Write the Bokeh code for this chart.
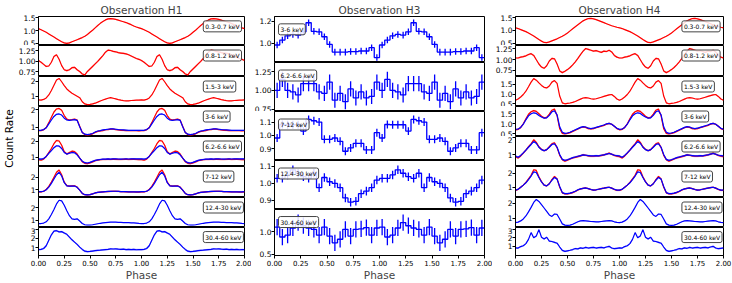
import math
from bokeh.plotting import figure
from bokeh.layouts import row, column
from bokeh.models import Range1d, FixedTicker, PrintfTickFormatter, Label
from bokeh.embed import file_html
from bokeh.resources import INLINE

FONT = "DejaVu Sans"
RED = "#ff0000"
BLUE = "#0000ff"

# ---------------- data (one pulse cycle, phase step 0.025; plotted twice) ----------------
PHASE_STEP = 0.025
x_ticks = [0.0, 0.25, 0.5, 0.75, 1.0, 1.25, 1.5, 1.75, 2.0]
titles = ["Observation H1", "Observation H3", "Observation H4"]
bands = ["0.3-0.7 keV", "0.8-1.2 keV", "1.5-3 keV", "3-6 keV", "6.2-6.6 keV",
         "7-12 keV", "12.4-30 keV", "30.4-60 keV"]
bands_h3 = ["3-6 keV", "6.2-6.6 keV", "7-12 keV", "12.4-30 keV", "30.4-60 keV"]

# Observation H1
h1_03_07 = [1.08, 1.04, 0.99, 0.94, 0.88, 0.82, 0.76, 0.70, 0.64, 0.58, 0.54, 0.52, 0.54, 0.58, 0.62, 0.66, 0.70, 0.74, 0.79, 0.86,
            0.94, 1.02, 1.11, 1.20, 1.28, 1.35, 1.41, 1.45, 1.46, 1.45, 1.43, 1.40, 1.37, 1.34, 1.31, 1.27, 1.23, 1.18, 1.14, 1.11]
h1_08_12 = [1.02, 0.98, 0.93, 0.88, 0.89, 0.98, 1.12, 1.16, 1.05, 0.90, 0.80, 0.78, 0.80, 0.85, 0.86, 0.80, 0.76, 0.70, 0.68, 0.76,
            0.82, 0.88, 0.94, 1.00, 1.07, 1.14, 1.22, 1.27, 1.26, 1.24, 1.23, 1.21, 1.20, 1.19, 1.18, 1.16, 1.13, 1.10, 1.07, 1.05]
h1_15_3 = [0.77, 0.76, 0.80, 0.90, 1.10, 1.40, 1.75, 2.10, 2.20, 1.98, 1.72, 1.50, 1.35, 1.22, 1.12, 1.02, 0.92, 0.65, 0.50, 0.46,
           0.47, 0.50, 0.55, 0.62, 0.70, 0.76, 0.82, 0.88, 0.92, 0.88, 0.84, 0.79, 0.75, 0.72, 0.70, 0.71, 0.73, 0.74, 0.75, 0.76]
h1_3_6_r = [0.80, 0.80, 0.85, 0.98, 1.25, 1.55, 1.85, 2.02, 2.05, 1.95, 1.65, 1.45, 1.40, 1.42, 1.45, 1.40, 1.05, 0.70, 0.58, 0.56,
            0.58, 0.62, 0.70, 0.75, 0.78, 0.80, 0.85, 0.86, 0.88, 0.88, 0.86, 0.84, 0.82, 0.81, 0.80, 0.80, 0.80, 0.80, 0.80, 0.79]
h1_3_6_b = [0.82, 0.82, 0.86, 0.96, 1.18, 1.40, 1.60, 1.72, 1.74, 1.68, 1.50, 1.40, 1.38, 1.40, 1.42, 1.38, 1.02, 0.70, 0.60, 0.58,
            0.60, 0.64, 0.72, 0.78, 0.80, 0.84, 0.86, 0.88, 0.90, 0.90, 0.88, 0.86, 0.85, 0.84, 0.83, 0.82, 0.82, 0.82, 0.82, 0.82]
h1_62_66_r = [0.85, 0.82, 0.88, 1.05, 1.30, 1.55, 1.85, 2.05, 2.02, 1.75, 1.35, 1.20, 1.30, 1.38, 1.35, 1.20, 0.95, 0.72, 0.62, 0.60,
              0.65, 0.70, 0.78, 0.82, 0.85, 0.86, 0.86, 0.87, 0.86, 0.88, 0.87, 0.86, 0.86, 0.87, 0.88, 0.86, 0.87, 0.88, 0.86, 0.85]
h1_62_66_b = [0.90, 0.88, 0.92, 1.05, 1.25, 1.42, 1.60, 1.72, 1.70, 1.55, 1.30, 1.20, 1.25, 1.30, 1.28, 1.15, 0.95, 0.75, 0.66, 0.64,
              0.68, 0.74, 0.80, 0.84, 0.86, 0.88, 0.88, 0.90, 0.88, 0.90, 0.90, 0.89, 0.88, 0.89, 0.90, 0.89, 0.90, 0.90, 0.90, 0.90]
h1_7_12_r = [0.80, 0.80, 0.86, 1.00, 1.25, 1.60, 2.00, 2.40, 2.58, 2.20, 1.60, 1.32, 1.28, 1.30, 1.30, 1.20, 0.95, 0.68, 0.58, 0.56,
             0.58, 0.64, 0.72, 0.76, 0.78, 0.80, 0.82, 0.83, 0.84, 0.85, 0.85, 0.84, 0.82, 0.82, 0.81, 0.80, 0.80, 0.80, 0.79, 0.79]
h1_7_12_b = [0.82, 0.82, 0.86, 0.98, 1.20, 1.50, 1.85, 2.20, 2.40, 2.10, 1.55, 1.30, 1.28, 1.28, 1.28, 1.18, 0.95, 0.68, 0.58, 0.56,
             0.58, 0.64, 0.72, 0.77, 0.79, 0.81, 0.83, 0.84, 0.85, 0.86, 0.86, 0.85, 0.83, 0.82, 0.82, 0.81, 0.81, 0.81, 0.81, 0.81]
h1_124_30 = [0.72, 0.72, 0.76, 0.86, 1.10, 1.45, 1.85, 2.30, 2.60, 2.55, 2.20, 1.75, 1.35, 1.10, 1.05, 1.10, 0.92, 0.72, 0.62, 0.60,
             0.60, 0.62, 0.66, 0.70, 0.74, 0.77, 0.80, 0.82, 0.84, 0.84, 0.83, 0.82, 0.81, 0.80, 0.79, 0.79, 0.78, 0.77, 0.75, 0.73]
h1_304_60 = [0.78, 0.80, 0.90, 1.20, 1.80, 2.40, 2.80, 2.85, 2.72, 2.75, 2.60, 2.45, 2.15, 1.85, 1.60, 1.35, 1.05, 0.80, 0.60, 0.55,
             0.58, 0.62, 0.66, 0.70, 0.72, 0.75, 0.78, 0.80, 0.85, 0.84, 0.86, 0.82, 0.80, 0.82, 0.78, 0.80, 0.78, 0.80, 0.76, 0.78]

# Observation H4
h4_03_07 = [1.10, 1.07, 1.03, 0.99, 0.95, 0.90, 0.84, 0.78, 0.71, 0.64, 0.58, 0.53, 0.52, 0.55, 0.59, 0.63, 0.67, 0.72, 0.77, 0.83,
            0.90, 0.98, 1.06, 1.14, 1.22, 1.30, 1.37, 1.42, 1.46, 1.47, 1.45, 1.42, 1.38, 1.34, 1.30, 1.26, 1.22, 1.18, 1.15, 1.12]
h4_08_12 = [1.04, 1.04, 1.06, 1.07, 1.09, 1.12, 1.14, 1.10, 1.00, 0.90, 0.83, 0.80, 0.86, 0.97, 1.03, 1.02, 0.90, 0.74, 0.70, 0.73,
            0.77, 0.82, 0.88, 0.95, 1.03, 1.12, 1.20, 1.26, 1.24, 1.22, 1.20, 1.21, 1.19, 1.17, 1.20, 1.19, 1.22, 1.18, 1.10, 1.06]
h4_15_3 = [0.68, 0.75, 0.85, 0.98, 1.15, 1.38, 1.62, 1.80, 1.72, 1.58, 1.45, 1.35, 1.32, 1.42, 1.62, 1.70, 1.55, 0.90, 0.55, 0.50,
           0.52, 0.54, 0.57, 0.62, 0.68, 0.74, 0.80, 0.82, 0.80, 0.76, 0.74, 0.76, 0.80, 0.84, 0.88, 0.92, 0.96, 0.98, 0.88, 0.75]
h4_3_6_r = [0.70, 0.72, 0.82, 1.00, 1.25, 1.48, 1.60, 1.66, 1.62, 1.50, 1.38, 1.30, 1.32, 1.48, 1.68, 1.74, 1.40, 0.75, 0.52, 0.50,
            0.52, 0.56, 0.62, 0.68, 0.74, 0.80, 0.84, 0.82, 0.76, 0.74, 0.76, 0.80, 0.84, 0.88, 0.92, 0.98, 1.02, 0.98, 0.88, 0.76]
h4_3_6_b = [0.72, 0.74, 0.82, 0.98, 1.20, 1.40, 1.50, 1.55, 1.52, 1.42, 1.34, 1.28, 1.30, 1.42, 1.60, 1.65, 1.45, 0.85, 0.58, 0.52,
            0.54, 0.58, 0.64, 0.70, 0.76, 0.82, 0.86, 0.84, 0.78, 0.76, 0.78, 0.82, 0.86, 0.90, 0.94, 1.00, 1.02, 0.98, 0.88, 0.78]
h4_62_66_r = [0.88, 0.80, 0.92, 1.08, 1.25, 1.45, 1.62, 1.85, 1.70, 1.45, 1.30, 1.22, 1.28, 1.45, 1.62, 1.68, 1.40, 0.95, 0.70, 0.62,
              0.68, 0.74, 0.80, 0.84, 0.88, 0.92, 0.98, 0.96, 0.92, 0.90, 0.90, 0.92, 0.92, 0.94, 0.98, 1.02, 1.08, 1.02, 0.95, 0.90]
h4_62_66_b = [0.92, 0.84, 0.95, 1.10, 1.25, 1.42, 1.58, 1.75, 1.65, 1.42, 1.28, 1.22, 1.28, 1.42, 1.58, 1.62, 1.42, 1.00, 0.72, 0.66,
              0.70, 0.76, 0.82, 0.86, 0.90, 0.94, 0.98, 0.96, 0.94, 0.92, 0.92, 0.94, 0.92, 0.96, 0.98, 1.02, 1.06, 1.02, 0.96, 0.94]
h4_7_12_r = [0.78, 0.85, 1.00, 1.15, 1.35, 1.60, 1.85, 2.25, 2.20, 1.75, 1.40, 1.15, 1.10, 1.25, 1.55, 1.78, 1.60, 1.00, 0.60, 0.52,
             0.52, 0.56, 0.62, 0.70, 0.80, 0.88, 0.92, 0.95, 0.90, 0.84, 0.80, 0.82, 0.86, 0.90, 0.94, 0.98, 1.00, 0.94, 0.84, 0.78]
h4_7_12_b = [0.80, 0.86, 1.00, 1.15, 1.32, 1.55, 1.80, 2.10, 2.05, 1.70, 1.38, 1.15, 1.10, 1.25, 1.50, 1.70, 1.58, 1.05, 0.62, 0.55,
             0.55, 0.58, 0.64, 0.72, 0.82, 0.88, 0.92, 0.95, 0.90, 0.84, 0.80, 0.82, 0.86, 0.90, 0.94, 0.98, 1.00, 0.94, 0.86, 0.80]
h4_124_30 = [0.70, 0.74, 0.82, 0.95, 1.15, 1.42, 1.72, 2.05, 2.25, 2.12, 1.90, 1.68, 1.45, 1.22, 1.12, 1.28, 1.25, 0.95, 0.62, 0.54,
             0.52, 0.54, 0.60, 0.68, 0.76, 0.82, 0.84, 0.82, 0.80, 0.78, 0.77, 0.76, 0.76, 0.78, 0.80, 0.82, 0.84, 0.82, 0.76, 0.72]
h4_304_60 = [0.80, 0.78, 0.95, 1.05, 1.30, 1.80, 2.60, 2.00, 2.20, 2.95, 2.05, 1.85, 2.05, 1.60, 1.55, 1.45, 1.35, 0.90, 0.50, 0.38,
             0.45, 0.52, 0.60, 0.72, 0.68, 0.80, 0.75, 0.85, 0.78, 0.82, 0.86, 0.78, 0.82, 0.85, 0.80, 0.90, 0.98, 0.78, 0.70, 0.75]

# Observation H3 (20 phase bins per cycle, with 1-sigma errors)
H3_BIN = 0.05
h3_3_6 = [0.985, 1.03, 1.069, 1.081, 1.075, 1.105, 1.188, 1.11, 1.105, 1.06,
          0.99, 0.92, 0.92, 0.92, 0.925, 0.925, 0.93, 0.93, 0.96, 0.87]
h3_62_66 = [1.00, 1.146, 1.00, 0.98, 0.94, 1.09, 1.09, 1.09, 0.98, 0.96,
            1.11, 0.87, 0.96, 0.85, 1.02, 0.90, 0.98, 0.90, 0.92, 1.11]
h3_7_12 = [0.98, 1.082, 1.08, 1.08, 1.08, 1.032, 1.12, 1.11, 1.10, 0.97,
           0.97, 0.98, 0.955, 0.88, 0.905, 0.94, 0.94, 0.89, 0.89, 1.02]
h3_124_30 = [1.03, 1.03, 1.05, 1.08, 1.06, 1.04, 1.03, 1.06, 0.975, 1.035,
             1.01, 1.00, 0.975, 0.915, 0.89, 0.895, 0.94, 0.955, 0.975, 1.02]
h3_304_60 = [1.10, 0.88, 0.92, 1.08, 1.20, 1.13, 1.08, 1.05, 0.92, 1.10,
             0.90, 0.75, 0.83, 1.05, 0.90, 1.05, 1.06, 1.09, 0.92, 1.08]
h3_err = [0.03, 0.10, 0.03, 0.025, 0.18]

# panel settings: (y_lo, y_hi, ticks, format)
h1_axes = [(0.44, 1.54, [0.5, 1.0, 1.5], "%.1f"), (0.64, 1.38, [0.75, 1.0, 1.25], "%.2f"),
           (0.33, 2.33, [1, 2], "%d"), (0.47, 2.16, [1, 2], "%d"), (0.42, 2.30, [1, 2], "%d"),
           (0.35, 2.87, [1, 2], "%d"), (0.40, 2.82, [1, 2], "%d"), (0.13, 3.20, [1, 2, 3], "%d")]
h4_axes = [(0.41, 1.54, [0.5, 1.0, 1.5], "%.1f"), (0.61, 1.33, [0.75, 1.0, 1.25], "%.2f"),
           (0.36, 1.91, [0.5, 1.0, 1.5], "%.1f"), (0.365, 1.865, [0.5, 1.0, 1.5], "%.1f"),
           (0.31, 2.04, [1, 2], "%d"), (0.27, 2.48, [1, 2], "%d"), (0.38, 2.38, [1, 2], "%d"),
           (-0.1, 3.2, [1, 2, 3], "%d")]
h3_axes = [(0.825, 1.245, [1.0, 1.2], "%.1f"), (0.72, 1.37, [0.75, 1.0, 1.25], "%.2f"),
           (0.81, 1.18, [0.9, 1.0, 1.1], "%.1f"), (0.847, 1.135, [0.9, 1.0, 1.1], "%.1f"),
           (0.47, 1.49, [0.5, 1.0], "%.1f")]

h1_series = [[(h1_03_07, RED, 0.02)], [(h1_08_12, RED, 0.02)], [(h1_15_3, RED, 0.03)],
             [(h1_3_6_r, RED, 0.04), (h1_3_6_b, BLUE, 0.03)],
             [(h1_62_66_r, RED, 0.06), (h1_62_66_b, BLUE, 0.05)],
             [(h1_7_12_r, RED, 0.06), (h1_7_12_b, BLUE, 0.05)],
             [(h1_124_30, BLUE, 0.03)], [(h1_304_60, BLUE, 0.10)]]
h4_series = [[(h4_03_07, RED, 0.02)], [(h4_08_12, RED, 0.02)], [(h4_15_3, RED, 0.03)],
             [(h4_3_6_r, RED, 0.04), (h4_3_6_b, BLUE, 0.03)],
             [(h4_62_66_r, RED, 0.06), (h4_62_66_b, BLUE, 0.05)],
             [(h4_7_12_r, RED, 0.06), (h4_7_12_b, BLUE, 0.05)],
             [(h4_124_30, BLUE, 0.03)], [(h4_304_60, BLUE, 0.10)]]
h3_series = [h3_3_6, h3_62_66, h3_7_12, h3_124_30, h3_304_60]

# ---------------- layout geometry (pixels) ----------------
TOP = 15
BOTTOM = 25
LABEL_W = 15
H1_FRAMES = [30, 31, 30, 30, 30, 31, 30, 31]
H3_FRAMES = [47, 49, 49, 49, 49]
TOTAL_H = TOP + sum(H1_FRAMES) + BOTTOM


def base_fig(frame_w, frame_h, left, right, axes, first, last, title):
    lo, hi, ticks, fmt = axes
    top = TOP if first else 0
    bottom = BOTTOM if last else 0
    p = figure(width=left + frame_w + right, height=frame_h + top + bottom,
               x_range=Range1d(0, 2), y_range=Range1d(lo, hi),
               toolbar_location=None, output_backend="svg",
               title=title if first else None,
               x_axis_location="below" if last else None, y_axis_location="left",
               min_border_left=left, min_border_right=right,
               min_border_top=top, min_border_bottom=bottom)
    p.xgrid.visible = False
    p.ygrid.visible = False
    p.outline_line_color = "black"
    p.outline_line_width = 1
    p.outline_line_alpha = 1
    p.background_fill_color = "white"
    p.border_fill_color = "white"
    ya = p.yaxis[0]
    ya.ticker = FixedTicker(ticks=ticks)
    ya.formatter = PrintfTickFormatter(format=fmt)
    ya.major_label_text_font = FONT
    ya.major_label_text_font_size = "7.5px"
    ya.major_label_text_color = "black"
    ya.major_tick_out = 3
    ya.major_tick_in = 0
    ya.minor_tick_out = 0
    ya.minor_tick_in = 0
    ya.major_label_standoff = 0
    ya.axis_line_color = "black"
    if last:
        xa = p.xaxis[0]
        xa.ticker = FixedTicker(ticks=x_ticks)
        xa.formatter = PrintfTickFormatter(format="%.2f")
        xa.major_label_text_font = FONT
        xa.major_label_text_font_size = "7px"
        xa.major_label_text_color = "black"
        xa.major_tick_out = 3
        xa.major_tick_in = 0
        xa.minor_tick_out = 0
        xa.minor_tick_in = 0
        xa.major_label_standoff = 1
        xa.axis_label = "Phase"
        xa.axis_label_text_font = FONT
        xa.axis_label_text_font_size = "10.5px"
        xa.axis_label_text_font_style = "normal"
        xa.axis_label_standoff = 0
    if first:
        p.title.align = "center"
        p.title.text_font = FONT
        p.title.text_font_size = "10.5px"
        p.title.text_font_style = "normal"
        p.title.standoff = 2
    return p


def band_label(p, text, x, frame_w, frame_h, axes, gap_px):
    lo, hi = axes[0], axes[1]
    y = hi - gap_px * (hi - lo) / frame_h
    p.add_layout(Label(x=x, y=y, text=text, text_font=FONT, text_font_size="6px",
                       text_align="left", text_baseline="top", text_color="black",
                       background_fill_color="white", background_fill_alpha=0.85,
                       border_line_color="#444444", border_line_width=1,
                       padding=2, border_radius=2))


def profile_column(series_list, axes_list, frame_w, left, right, title):
    figs = []
    n = len(series_list)
    phases = [i * PHASE_STEP for i in range(2 * len(series_list[0][0][0]))] + [2.0]
    for k in range(n):
        p = base_fig(frame_w, H1_FRAMES[k], left, right, axes_list[k], k == 0, k == n - 1, title)
        for vals, color, err in series_list[k]:
            ys = vals + vals + [vals[0]]
            p.varea(x=phases, y1=[v - err for v in ys], y2=[v + err for v in ys],
                    fill_color=color, fill_alpha=0.3)
            p.line(phases, ys, line_color=color, line_width=1.2)
        band_label(p, bands[k], 1.60, frame_w, H1_FRAMES[k], axes_list[k], 4.5)
        figs.append(p)
    return column(*figs)


def h3_column(frame_w, left, right):
    figs = []
    n = len(h3_series)
    for k in range(n):
        vals = h3_series[k]
        nb = len(vals)
        edges = [i * H3_BIN for i in range(2 * nb)] + [2.0]
        ys = vals + vals
        centers = [(i + 0.5) * H3_BIN for i in range(2 * nb)]
        err = h3_err[k]
        p = base_fig(frame_w, H3_FRAMES[k], left, right, h3_axes[k], k == 0, k == n - 1, titles[1])
        p.segment(x0=centers, y0=[v - err for v in ys], x1=centers, y1=[v + err for v in ys],
                  line_color=BLUE, line_width=1.3)
        p.step(edges, ys + [ys[-1]], mode="after", line_color=BLUE, line_width=1.3)
        band_label(p, bands_h3[k], 0.038, frame_w, H3_FRAMES[k], h3_axes[k], 7.5)
        figs.append(p)
    return column(*figs)


# "Count Rate" side label
lab = figure(width=LABEL_W, height=TOTAL_H, x_range=Range1d(0, LABEL_W), y_range=Range1d(0, TOTAL_H),
             toolbar_location=None, output_backend="svg", x_axis_location=None, y_axis_location=None,
             min_border=0)
lab.outline_line_color = None
lab.xgrid.visible = False
lab.ygrid.visible = False
lab.add_layout(Label(x=8, y=TOTAL_H - 138, text="Count Rate", angle=math.pi / 2,
                     text_font=FONT, text_font_size="10.5px", text_align="center",
                     text_baseline="middle", text_color="black"))

col1 = profile_column(h1_series, h1_axes, 209, 20, 7, titles[0])
col2 = h3_column(210, 23, 8)
col3 = profile_column(h4_series, h4_axes, 209, 22, 9, titles[2])

layout = row(lab, col1, col2, col3)

open("out.html", "w").write(file_html(layout, INLINE))
